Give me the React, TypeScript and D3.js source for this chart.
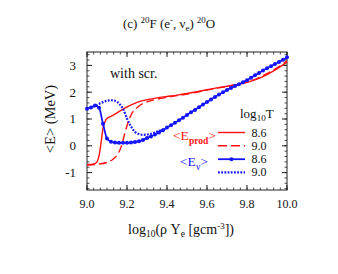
import { scaleLinear, line, curveMonotoneX, range } from "d3"

// E_nu, log10 T = 8.6 (points every 0.02)
const rhoNu86 = [
  9.0, 9.02, 9.04, 9.06, 9.08, 9.1, 9.12, 9.14, 9.16, 9.18, 9.2, 9.22, 9.24, 9.26, 9.28, 9.3, 9.32,
  9.34, 9.36, 9.38, 9.4, 9.42, 9.44, 9.46, 9.48, 9.5, 9.52, 9.54, 9.56, 9.58, 9.6, 9.62, 9.64,
  9.66, 9.68, 9.7, 9.72, 9.74, 9.76, 9.78, 9.8, 9.82, 9.84, 9.86, 9.88, 9.9, 9.92, 9.94, 9.96,
  9.98, 10.0,
]
const eNu86 = [
  1.38, 1.43, 1.5, 1.42, 0.82, 0.27, 0.15, 0.12, 0.11, 0.11, 0.11, 0.12, 0.14, 0.17, 0.22, 0.29,
  0.35, 0.42, 0.5, 0.58, 0.68, 0.77, 0.86, 0.95, 1.05, 1.15, 1.25, 1.34, 1.44, 1.54, 1.63, 1.73,
  1.82, 1.91, 2.0, 2.08, 2.16, 2.23, 2.3, 2.37, 2.45, 2.54, 2.63, 2.72, 2.81, 2.89, 2.97, 3.05,
  3.13, 3.21, 3.3,
]

// E_nu, log10 T = 9.0
const rhoNu90 = [
  9.0, 9.02, 9.04, 9.06, 9.08, 9.1, 9.12, 9.14, 9.16, 9.18, 9.2, 9.22, 9.24, 9.26, 9.28, 9.3,
  9.32, 9.34, 9.36, 9.38, 9.4,
]
const eNu90 = [
  1.38, 1.43, 1.49, 1.56, 1.63, 1.68, 1.7, 1.68, 1.58, 1.38, 1.02, 0.72, 0.52, 0.44, 0.41, 0.42,
  0.45, 0.5, 0.56, 0.61, 0.68,
]

// E_prod, log10 T = 8.6
const rhoProd86 = [
  9.0, 9.03, 9.05, 9.06, 9.07, 9.08, 9.09, 9.1, 9.12, 9.15, 9.2, 9.25, 9.3, 9.35, 9.4, 9.45, 9.5,
  9.55, 9.6, 9.65, 9.7, 9.75, 9.8, 9.85, 9.9, 9.95, 10.0,
]
const eProd86 = [
  -0.7, -0.69, -0.6, -0.38, 0.1, 0.65, 0.9, 1.02, 1.1, 1.23, 1.45, 1.62, 1.72, 1.79, 1.84, 1.89,
  1.95, 2.02, 2.09, 2.16, 2.22, 2.28, 2.37, 2.49, 2.66, 2.87, 3.12,
]

// E_prod, log10 T = 9.0
const rhoProd90 = [
  9.0, 9.05, 9.1, 9.13, 9.15, 9.17, 9.18, 9.19, 9.2, 9.22, 9.25, 9.28, 9.3, 9.35, 9.4, 9.45, 9.5,
  9.55, 9.6, 9.65, 9.7, 9.75, 9.8, 9.85, 9.9, 9.95, 10.0,
]
const eProd90 = [
  -0.72, -0.69, -0.62, -0.5, -0.36, -0.05, 0.2, 0.5, 0.75, 1.15, 1.42, 1.58, 1.64, 1.74, 1.81,
  1.87, 1.93, 2.0, 2.08, 2.15, 2.22, 2.29, 2.38, 2.51, 2.69, 2.91, 3.17,
]

const xTicks = [9.0, 9.2, 9.4, 9.6, 9.8, 10.0]
const yTicks = [-1, 0, 1, 2, 3]
const legendLabels = ["8.6", "9.0", "8.6", "9.0"]

const RED = "#ff1010"
const BLUE = "#1414ff"
const FONT = "Liberation Serif, Times New Roman, serif"

function App() {
  const left = 87, right = 287, top = 52, bottom = 190
  const x = scaleLinear().domain([9.0, 10.0]).range([left, right])
  const y = scaleLinear().domain([-1.65, 3.5]).range([bottom, top])

  const mk = (xs: number[], ys: number[]) =>
    line<number>()
      .x((d, i) => x(xs[i]))
      .y((d) => y(d))
      .curve(curveMonotoneX)(ys) ?? ""

  const xMinor = range(0, 31).map((i) => 9.0 + i / 30)
  const yMinor = range(0, 26).map((i) => -1.6 + i * 0.2)

  // legend rows sit on the y grid of the chart
  const legY = [132.5, 145.7, 159.2, 172.3]

  return (
    <svg width={338} height={274} style={{ position: "absolute", left: 0, top: 0, fontFamily: FONT }}>
      <rect width={338} height={274} fill="white" />

      {/* frame + ticks */}
      <rect x={left} y={top} width={right - left} height={bottom - top} fill="none" stroke="#222" strokeWidth={1} />
      {xMinor.map((v, i) => (
        <g key={"xm" + i} stroke="#222" strokeWidth={0.8}>
          <line x1={x(v)} x2={x(v)} y1={bottom} y2={bottom - 2.5} />
          <line x1={x(v)} x2={x(v)} y1={top} y2={top + 2.5} />
        </g>
      ))}
      {xTicks.map((v) => (
        <g key={"x" + v}>
          <line x1={x(v)} x2={x(v)} y1={bottom} y2={bottom - 5} stroke="#222" strokeWidth={1} />
          <line x1={x(v)} x2={x(v)} y1={top} y2={top + 5} stroke="#222" strokeWidth={1} />
          <text x={x(v)} y={208} fontSize={12} textAnchor="middle" fill="#111">
            {v.toFixed(1)}
          </text>
        </g>
      ))}
      {yMinor
        .filter((v) => y(v) <= bottom && y(v) >= top)
        .map((v, i) => (
          <g key={"ym" + i} stroke="#222" strokeWidth={0.8}>
            <line x1={left} x2={left + 2.5} y1={y(v)} y2={y(v)} />
            <line x1={right} x2={right - 2.5} y1={y(v)} y2={y(v)} />
          </g>
        ))}
      {yTicks.map((v) => (
        <g key={"y" + v}>
          <line x1={left} x2={left + 5} y1={y(v)} y2={y(v)} stroke="#222" strokeWidth={1} />
          <line x1={right} x2={right - 5} y1={y(v)} y2={y(v)} stroke="#222" strokeWidth={1} />
          <text x={76} y={y(v) + 4.5} fontSize={13} textAnchor="end" fill="#111">
            {v}
          </text>
        </g>
      ))}

      {/* curves */}
      <path d={mk(rhoProd86, eProd86)} fill="none" stroke={RED} strokeWidth={1.4} />
      <path d={mk(rhoProd90, eProd90)} fill="none" stroke={RED} strokeWidth={1.4} strokeDasharray="8 4" />
      <path d={mk(rhoNu90, eNu90)} fill="none" stroke={BLUE} strokeWidth={2.2} strokeDasharray="1.8 1.4" />
      <path d={mk(rhoNu86, eNu86)} fill="none" stroke={BLUE} strokeWidth={1.8} />
      {eNu86.map((v, i) => (
        <circle key={"m" + i} cx={x(rhoNu86[i])} cy={y(v)} r={2} fill={BLUE} />
      ))}

      {/* annotations */}
      <text x={110} y={78} fontSize={14} fill="#111">with scr.</text>

      <text x={173} y={140} fontSize={13.5} fill={RED}>
        {"<E"}
        <tspan fontSize={9.5} fontWeight="bold" dy={4}>prod</tspan>
        <tspan dy={-4}>{">"}</tspan>
      </text>
      <text x={180} y={166} fontSize={13.5} fill={BLUE}>
        {"<E"}
        <tspan fontSize={9.5} dy={4}>ν</tspan>
        <tspan dy={-4}>{">"}</tspan>
      </text>

      {/* legend */}
      <text x={240} y={118} fontSize={13} fill="#111">
        log
        <tspan fontSize={9} dy={3}>10</tspan>
        <tspan dy={-3}>T</tspan>
      </text>
      <line x1={218} x2={245} y1={legY[0]} y2={legY[0]} stroke={RED} strokeWidth={1.4} />
      <line x1={218} x2={245} y1={legY[1]} y2={legY[1]} stroke={RED} strokeWidth={1.4} strokeDasharray="9 4" />
      <line x1={218} x2={245} y1={legY[2]} y2={legY[2]} stroke={BLUE} strokeWidth={1.8} />
      <circle cx={231.5} cy={legY[2]} r={2} fill={BLUE} />
      <line x1={218} x2={245} y1={legY[3]} y2={legY[3]} stroke={BLUE} strokeWidth={2.2} strokeDasharray="1.8 1.4" />
      {legendLabels.map((t, i) => (
        <text key={"l" + i} x={251.5} y={legY[i] + 4} fontSize={12} fill="#111">
          {t}
        </text>
      ))}

      {/* title */}
      <text x={123} y={28} fontSize={13} fill="#111">
        (c)
        <tspan fontSize={9} dy={-5} dx={3}>20</tspan>
        <tspan dy={5}>F (e</tspan>
        <tspan fontSize={9} dy={-5}>-</tspan>
        <tspan dy={5}>, ν</tspan>
        <tspan fontSize={9} dy={3}>e</tspan>
        <tspan dy={-3}>)</tspan>
        <tspan fontSize={9} dy={-5} dx={3}>20</tspan>
        <tspan dy={5}>O</tspan>
      </text>

      {/* axis titles */}
      <text transform="translate(55,119) rotate(-90)" fontSize={14.5} textAnchor="middle" fill="#111">
        {"<E> (MeV)"}
      </text>
      <text x={128} y={234} fontSize={14} fill="#111">
        log
        <tspan fontSize={9.5} dy={3}>10</tspan>
        <tspan dy={-3}>(ρ Y</tspan>
        <tspan fontSize={9.5} dy={3}>e</tspan>
        <tspan dy={-3}> [gcm</tspan>
        <tspan fontSize={9} dy={-5}>-3</tspan>
        <tspan dy={5}>])</tspan>
      </text>
    </svg>
  )
}

export default App
